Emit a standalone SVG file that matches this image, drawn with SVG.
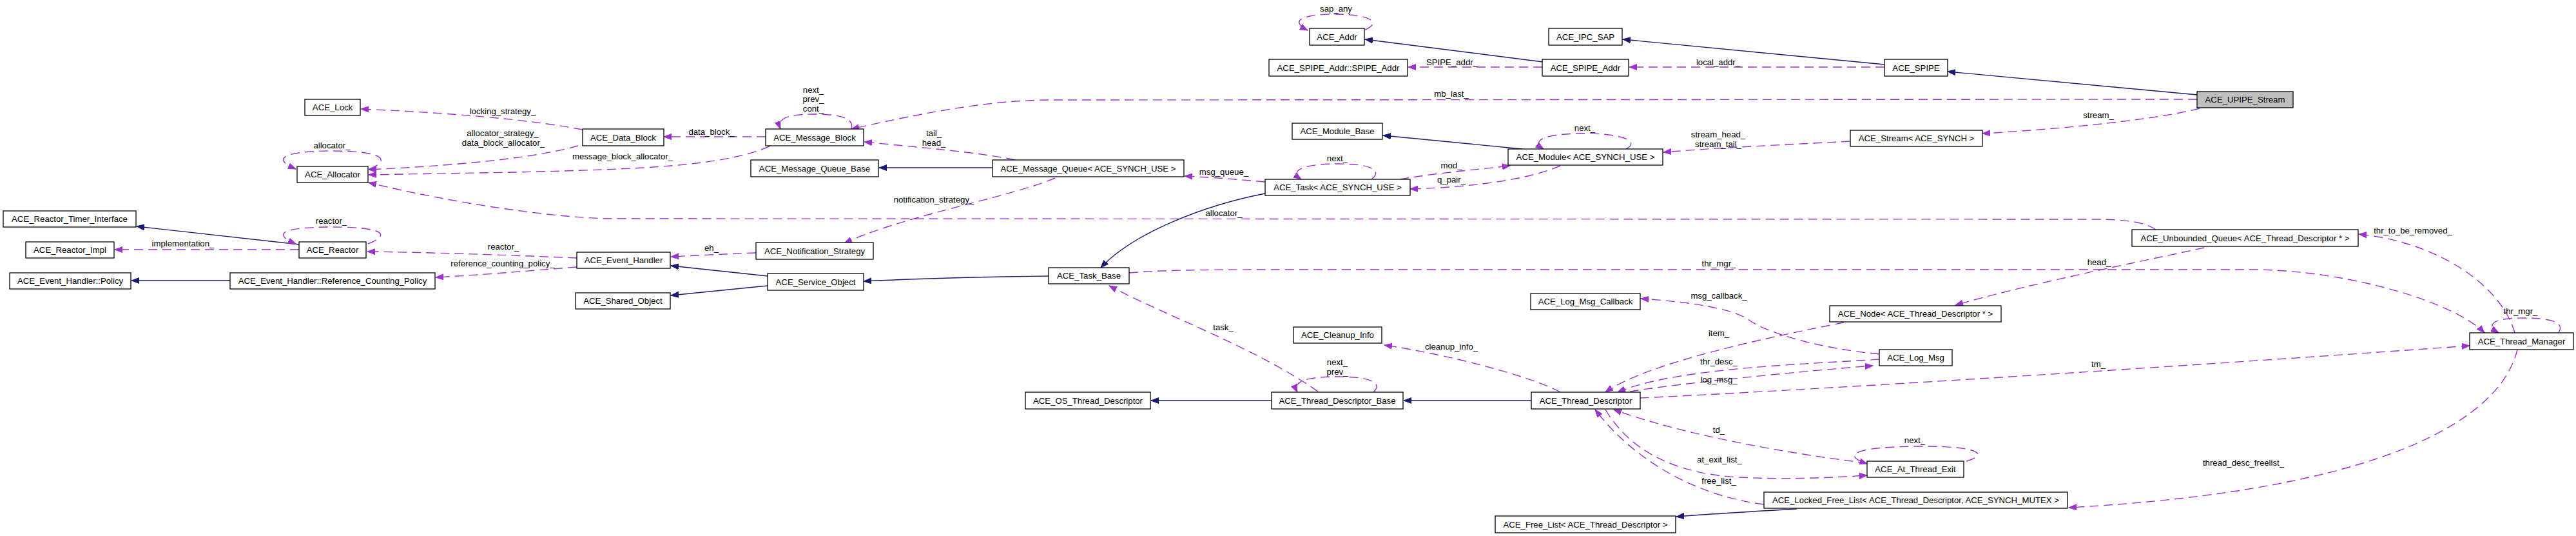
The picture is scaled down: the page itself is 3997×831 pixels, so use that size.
<svg xmlns="http://www.w3.org/2000/svg" width="3997" height="831" viewBox="0 0 3997 831">
<style>
rect{fill:#fff;stroke:#000;stroke-width:1.3}
rect.main{fill:#bfbfbf}
text{font-family:"Liberation Sans",Arial,sans-serif;font-size:13.2px;fill:#000;text-anchor:middle}
.inh{stroke:#191970;fill:none;stroke-width:1.4;marker-end:url(#ab)}
.use{stroke:#9a32cd;fill:none;stroke-width:1.4;stroke-dasharray:14 8;marker-end:url(#ap)}
</style>
<defs>
<marker id="ab" markerWidth="13" markerHeight="10" refX="12" refY="5" orient="auto" markerUnits="userSpaceOnUse"><path d="M0,0.5 L12,5 L0,9.5 z" fill="#191970" stroke="#191970"/></marker>
<marker id="ap" markerWidth="13" markerHeight="10" refX="12" refY="5" orient="auto" markerUnits="userSpaceOnUse"><path d="M0,0.5 L12,5 L0,9.5 z" fill="#9a32cd" stroke="#9a32cd"/></marker>
</defs>
<rect x="0" y="0" width="3997" height="831" style="fill:#fff;stroke:none"/>
<g id="edges">
<path class="inh" d="M464,379 L212,351"/>
<path class="inh" d="M357,435 L204,435"/>
<path class="inh" d="M1191,428 L1041,412"/>
<path class="inh" d="M1191,443 L1041,458"/>
<path class="inh" d="M1627,428 C1550,429 1420,432 1340,436"/>
<path class="inh" d="M1963,300 C1870,318 1760,360 1708,415"/>
<path class="inh" d="M1540,260 L1364,260"/>
<path class="inh" d="M2362,231 L2146,210"/>
<path class="inh" d="M2394,96 L2118,61"/>
<path class="inh" d="M2924,100 L2518,61"/>
<path class="inh" d="M3409,147 L3022,111"/>
<path class="inh" d="M1973,621 L1786,621"/>
<path class="inh" d="M2376,621 L2178,621"/>
<path class="inh" d="M2788,789 C2720,793 2650,797 2601,801"/>

<path class="use" d="M904,201 C820,185 700,175 560,169"/>
<text x="780" y="177">locking_strategy_</text>
<path class="use" d="M897,226 C820,248 680,258 572,263"/>
<text x="780" y="211">allocator_strategy_</text>
<text x="781" y="226">data_block_allocator_</text>
<path class="use" d="M1194,227 C1120,258 1000,262 800,267 L572,271"/>
<text x="966" y="247">message_block_allocator_</text>
<path class="use" d="M3345,356 C3330,345 3300,340 3250,340 L950,339 C850,338 680,310 572,283"/>
<text x="1899" y="335">allocator_</text>
<path class="use" d="M1188,212 L1030,212"/>
<text x="1104" y="209">data_block_</text>
<path class="use" d="M1321,200 C1325,185 1310,177 1262,177 C1220,177 1205,185 1211,200"/>
<text x="1262" y="144">next_</text>
<text x="1262" y="158">prev_</text>
<text x="1262" y="173">cont_</text>
<path class="use" d="M3409,154 L1620,155 C1520,157 1420,178 1321,200"/>
<text x="2252" y="150">mb_last_</text>
<path class="use" d="M1575,248 C1520,236 1420,228 1341,220"/>
<text x="1449" y="211">tail_</text>
<text x="1449" y="226">head_</text>
<path class="use" d="M1637,276 C1570,305 1400,335 1310,377"/>
<text x="1449" y="314">notification_strategy_</text>
<path class="use" d="M1173,392 C1120,394 1080,396 1041,398"/>
<text x="1104" y="389">eh_</text>
<path class="use" d="M895,400 C800,396 700,392 570,390"/>
<text x="781" y="387">reactor_</text>
<path class="use" d="M895,414 C820,420 750,426 676,430"/>
<text x="780" y="413">reference_counting_policy_</text>
<path class="use" d="M571,378 C605,365 600,352 516,352 C440,352 420,362 459,378"/>
<text x="514" y="347">reactor_</text>
<path class="use" d="M573,262 C605,250 600,234 516,234 C440,234 420,246 459,262"/>
<text x="515" y="230">allocator_</text>
<path class="use" d="M464,387 L178,387"/>
<text x="284" y="382">implementation_</text>
<path class="use" d="M1963,282 C1920,278 1880,275 1838,273"/>
<text x="1899" y="271">msg_queue_</text>
<path class="use" d="M2128,278 C2145,265 2130,254 2076,254 C2020,254 2000,265 2019,278"/>
<text x="2075" y="250">next_</text>
<path class="use" d="M2172,278 C2230,268 2300,262 2343,257"/>
<text x="2252" y="261">mod_</text>
<path class="use" d="M2421,257 C2380,275 2300,290 2188,293"/>
<text x="2252" y="283">q_pair_</text>
<path class="use" d="M2523,231 C2545,220 2520,207 2459,207 C2395,207 2375,218 2395,231"/>
<text x="2459" y="203">next_</text>
<path class="use" d="M2871,219 C2780,224 2680,228 2581,236"/>
<text x="2666" y="213">stream_head_</text>
<text x="2666" y="228">stream_tail_</text>
<path class="use" d="M3413,168 C3350,185 3200,200 3076,207"/>
<text x="3256" y="183">stream_</text>
<path class="use" d="M2393,104 L2185,104"/>
<text x="2253" y="101">SPIPE_addr_</text>
<path class="use" d="M2924,104 L2528,104"/>
<text x="2666" y="101">local_addr_</text>
<path class="use" d="M2118,46 C2145,35 2125,22 2073,22 C2020,22 2000,32 2029,47"/>
<text x="2073" y="18">sap_any</text>
<path class="use" d="M1752,423 C1800,419 1850,418 2000,418 L3500,418 C3650,420 3810,470 3855,516"/>
<text x="2667" y="413">thr_mgr_</text>
<path class="use" d="M3970,516 C3980,500 3960,493 3915,493 C3870,493 3855,503 3877,516"/>
<text x="3911" y="487">thr_mgr_</text>
<path class="use" d="M3902,516 C3880,440 3780,375 3660,363"/>
<text x="3744" y="362">thr_to_be_removed_</text>
<path class="use" d="M2545,617 C2900,600 3500,560 3832,536"/>
<text x="3256" y="569">tm_</text>
<path class="use" d="M2421,608 C2380,585 2250,550 2148,535"/>
<text x="2252" y="542">cleanup_info_</text>
<path class="use" d="M2529,607 C2600,595 2800,575 2906,567"/>
<text x="2667" y="593">log_msg_</text>
<path class="use" d="M2916,557 C2800,565 2600,570 2510,608"/>
<text x="2667" y="565">thr_desc_</text>
<path class="use" d="M2861,500 C2760,520 2560,560 2491,608"/>
<text x="2667" y="521">item_</text>
<path class="use" d="M2916,549 C2820,540 2740,515 2715,497 C2690,478 2620,468 2546,463"/>
<text x="2667" y="463">msg_callback_</text>
<path class="use" d="M2897,718 C2750,700 2600,670 2504,635"/>
<text x="2667" y="671">td_</text>
<path class="use" d="M2491,635 C2530,700 2600,735 2700,740 C2780,744 2850,740 2897,737"/>
<text x="2668" y="717">at_exit_list_</text>
<path class="use" d="M2737,782 C2640,770 2540,720 2475,635"/>
<text x="2667" y="750">free_list_</text>
<path class="use" d="M3051,715 C3085,705 3075,692 2982,692 C2880,692 2855,705 2897,719"/>
<text x="2971" y="687">next_</text>
<path class="use" d="M3906,542 C3880,650 3700,760 3210,787"/>
<text x="3481" y="722">thread_desc_freelist_</text>
<path class="use" d="M3420,384 C3300,410 3150,440 3034,473"/>
<text x="3257" y="411">head_</text>
<path class="use" d="M2045,607 C1950,540 1810,490 1721,443"/>
<text x="1898" y="512">task_</text>
<path class="use" d="M2131,608 C2145,595 2130,584 2076,584 C2025,584 2005,592 2013,608"/>
<text x="2075" y="566">next_</text>
<text x="2075" y="581">prev_</text>
</g>
<g id="n_upipe"><rect class="main" x="3409" y="142" width="149" height="25"/><text x="3483.5" y="159">ACE_UPIPE_Stream</text></g>
<g id="n_spipe"><rect x="2924" y="92" width="98" height="26"/><text x="2973" y="109.7">ACE_SPIPE</text></g>
<g id="n_ipcsap"><rect x="2403" y="44" width="114" height="26"/><text x="2460" y="61.7">ACE_IPC_SAP</text></g>
<g id="n_spipeaddr"><rect x="2393" y="92" width="134" height="26"/><text x="2460" y="109.7">ACE_SPIPE_Addr</text></g>
<g id="n_addr"><rect x="2032" y="44" width="85" height="26"/><text x="2074.5" y="61.7">ACE_Addr</text></g>
<g id="n_spipeaddr2"><rect x="1969" y="92" width="215" height="26"/><text x="2076.5" y="109.7">ACE_SPIPE_Addr::SPIPE_Addr</text></g>
<g id="n_stream"><rect x="2871" y="202" width="205" height="25"/><text x="2973.5" y="219">ACE_Stream&lt; ACE_SYNCH &gt;</text></g>
<g id="n_module"><rect x="2340" y="231" width="240" height="25"/><text x="2460" y="248">ACE_Module&lt; ACE_SYNCH_USE &gt;</text></g>
<g id="n_modulebase"><rect x="2005" y="191" width="140" height="25"/><text x="2075" y="208">ACE_Module_Base</text></g>
<g id="n_task"><rect x="1963" y="278" width="225" height="25"/><text x="2075.5" y="295">ACE_Task&lt; ACE_SYNCH_USE &gt;</text></g>
<g id="n_mq"><rect x="1540" y="248" width="297" height="26"/><text x="1688.5" y="265.7">ACE_Message_Queue&lt; ACE_SYNCH_USE &gt;</text></g>
<g id="n_mqbase"><rect x="1165" y="248" width="198" height="26"/><text x="1264" y="265.7">ACE_Message_Queue_Base</text></g>
<g id="n_mb"><rect x="1188" y="200" width="152" height="26"/><text x="1264" y="217.7">ACE_Message_Block</text></g>
<g id="n_db"><rect x="904" y="200" width="126" height="26"/><text x="967" y="217.7">ACE_Data_Block</text></g>
<g id="n_lock"><rect x="473" y="154" width="86" height="25"/><text x="516" y="171">ACE_Lock</text></g>
<g id="n_alloc"><rect x="461" y="258" width="110" height="25"/><text x="516" y="275">ACE_Allocator</text></g>
<g id="n_rti"><rect x="5" y="327" width="206" height="25"/><text x="108" y="344">ACE_Reactor_Timer_Interface</text></g>
<g id="n_rimpl"><rect x="40" y="375" width="137" height="25"/><text x="108.5" y="392">ACE_Reactor_Impl</text></g>
<g id="n_reactor"><rect x="464" y="375" width="104" height="25"/><text x="516" y="392">ACE_Reactor</text></g>
<g id="n_policy"><rect x="15" y="423" width="188" height="25"/><text x="109" y="440">ACE_Event_Handler::Policy</text></g>
<g id="n_rcp"><rect x="357" y="423" width="318" height="25"/><text x="516" y="440">ACE_Event_Handler::Reference_Counting_Policy</text></g>
<g id="n_eh"><rect x="895" y="391" width="145" height="25"/><text x="967.5" y="408">ACE_Event_Handler</text></g>
<g id="n_so"><rect x="893" y="454" width="147" height="25"/><text x="966.5" y="471">ACE_Shared_Object</text></g>
<g id="n_ns"><rect x="1173" y="376" width="182" height="26"/><text x="1264" y="393.7">ACE_Notification_Strategy</text></g>
<g id="n_svc"><rect x="1191" y="424" width="149" height="26"/><text x="1265.5" y="441.7">ACE_Service_Object</text></g>
<g id="n_taskbase"><rect x="1627" y="415" width="125" height="25"/><text x="1689.5" y="432">ACE_Task_Base</text></g>
<g id="n_ostd"><rect x="1591" y="608" width="194" height="26"/><text x="1688" y="625.7">ACE_OS_Thread_Descriptor</text></g>
<g id="n_tdbase"><rect x="1973" y="608" width="204" height="26"/><text x="2075" y="625.7">ACE_Thread_Descriptor_Base</text></g>
<g id="n_td"><rect x="2376" y="608" width="169" height="26"/><text x="2460.5" y="625.7">ACE_Thread_Descriptor</text></g>
<g id="n_cleanup"><rect x="2007" y="507" width="137" height="25"/><text x="2075.5" y="524">ACE_Cleanup_Info</text></g>
<g id="n_lmcb"><rect x="2375" y="455" width="170" height="25"/><text x="2460" y="472">ACE_Log_Msg_Callback</text></g>
<g id="n_node"><rect x="2839" y="474" width="266" height="25"/><text x="2972" y="491">ACE_Node&lt; ACE_Thread_Descriptor * &gt;</text></g>
<g id="n_logmsg"><rect x="2916" y="542" width="113" height="25"/><text x="2972.5" y="559">ACE_Log_Msg</text></g>
<g id="n_uq"><rect x="3308" y="356" width="351" height="26"/><text x="3483.5" y="373.7">ACE_Unbounded_Queue&lt; ACE_Thread_Descriptor * &gt;</text></g>
<g id="n_tm"><rect x="3832" y="516" width="161" height="26"/><text x="3912.5" y="533.7">ACE_Thread_Manager</text></g>
<g id="n_ate"><rect x="2897" y="715" width="150" height="25"/><text x="2972" y="732">ACE_At_Thread_Exit</text></g>
<g id="n_lfl"><rect x="2737" y="763" width="471" height="25"/><text x="2972.5" y="780">ACE_Locked_Free_List&lt; ACE_Thread_Descriptor, ACE_SYNCH_MUTEX &gt;</text></g>
<g id="n_fl"><rect x="2320" y="800" width="280" height="26"/><text x="2460" y="817.7">ACE_Free_List&lt; ACE_Thread_Descriptor &gt;</text></g>
</svg>
